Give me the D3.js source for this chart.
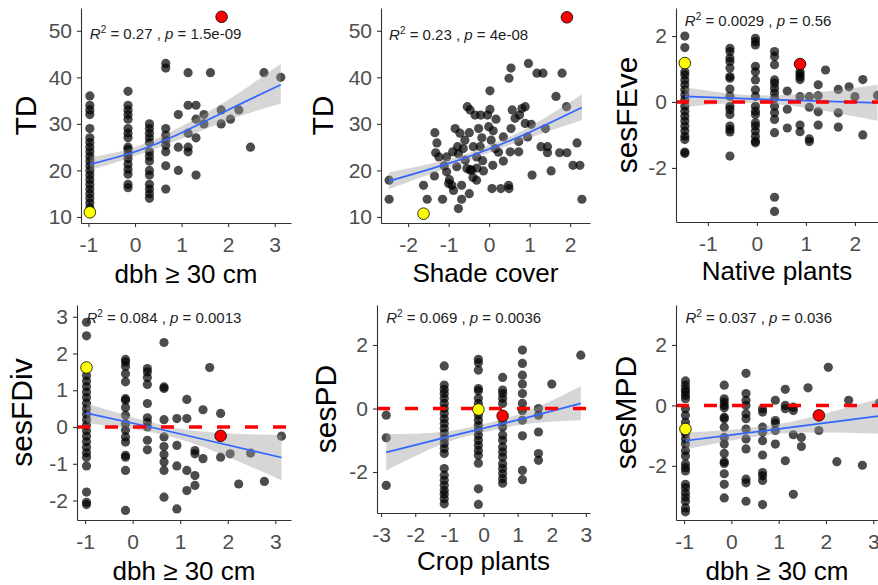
<!DOCTYPE html>
<html>
<head>
<meta charset="utf-8">
<script src="https://cdn.jsdelivr.net/npm/d3@7"></script>
<style>
  body { margin: 0; background: #fff; }
  svg { display: block; font-family: "Liberation Sans", Arial, sans-serif; }
</style>
</head>
<body>
<svg id="chart" width="878" height="585"></svg>
<script>
// ---- values ----
// columns: [x level, [y values]]
const tdByDbh = [
  [-0.97, [36, 34, 33, 32, 29, 27, 26, 25, 24, 23, 22, 21, 20, 19, 18, 17, 16, 15, 14, 13, 12]],
  [-0.15, [37, 34, 33, 32, 31, 29, 28, 27, 25, 24.5, 23.5, 22.5, 21.3, 20.2, 19.2, 17, 16.3]],
  [0.31, [30, 29, 28, 27, 26, 24, 23, 22, 20, 19, 17, 16, 15, 14]],
  [0.66, [43, 42, 29, 27.6, 26.5, 25.4, 24, 21, 16]],
  [0.93, [32, 25, 20]],
  [1.14, [41, 34, 28, 25, 24]],
  [1.31, [34, 31, 27, 19]],
  [1.48, [32, 30]],
  [1.62, [41]],
  [1.85, [33, 30]],
  [2.05, [31]],
  [2.23, [33]],
  [2.48, [25]],
  [2.77, [41]],
  [3.13, [40]]
];

// pairs: [shade cover, TD]
const tdByShade = [
  [-2.47, 17.9], [-2.47, 13.8], [-1.62, 16.8], [-1.53, 13.8], [-1.34, 28.1], [-1.29, 25.9],
  [-1.32, 23.8], [-1.24, 22.9], [-1.35, 18.8], [-1.15, 13.8], [-1.05, 22.9], [-1.11, 21.0],
  [-1.05, 19.7], [-0.98, 18.0], [-0.92, 16.8], [-0.88, 15.7], [-0.84, 29.0], [-0.78, 25.1],
  [-0.76, 23.6], [-0.72, 28.0], [-0.8, 20.8], [-0.68, 16.8], [-0.76, 11.8], [-0.68, 13.8],
  [-0.54, 33.7], [-0.47, 33.0], [-0.64, 24.7], [-0.59, 22.2], [-0.55, 20.4], [-0.49, 28.1],
  [-0.47, 20.1], [-0.43, 20.1], [-0.39, 25.1], [-0.49, 15.0], [-0.35, 31.9], [-0.26, 29.0],
  [-0.21, 31.9], [-0.18, 27.0], [-0.22, 25.1], [-0.31, 22.9], [-0.31, 17.9], [-0.16, 22.1],
  [-0.14, 19.9], [-0.04, 31.9], [0.02, 37.1], [0.02, 33.1], [-0.01, 29.4], [0.05, 26.5],
  [0.09, 21.1], [0.07, 16.1], [0.17, 31.0], [0.15, 24.7], [0.23, 23.9], [0.29, 16.1],
  [0.35, 22.0], [0.35, 27.2], [0.48, 16.8], [0.49, 16.1], [0.49, 39.8], [0.54, 42.0],
  [0.52, 24.0], [0.54, 29.0], [0.57, 33.0], [0.64, 31.2], [0.75, 31.9], [0.81, 33.3],
  [0.89, 33.7], [0.73, 24.0], [0.73, 26.2], [0.89, 30.1], [0.97, 43.0], [0.95, 27.2],
  [1.04, 29.9], [1.06, 19.0], [1.18, 40.9], [1.33, 40.9], [1.39, 29.0], [1.28, 25.1],
  [1.44, 25.1], [1.44, 23.8], [1.53, 19.9], [1.65, 35.9], [1.74, 23.8], [1.80, 40.9],
  [1.91, 33.7], [1.92, 23.8], [2.07, 21.1], [2.17, 25.9], [2.24, 21.1], [2.29, 13.8],
  [-0.9, 24.0], [-0.6, 26.5], [-0.3, 20.5], [0.1, 28.5], [-1.0, 17.2], [-0.4, 18.5]
];

const feveByNative = [
  [-1.47, [2.0, 1.65, 0.92, 0.82, 0.67, 0.52, 0.37, 0.22, 0.07, -0.13, -0.28, -0.43, -0.58, -0.73, -0.88, -1.04, -1.14, -1.52, -1.56]],
  [-0.55, [1.63, 1.53, 1.33, 1.23, 1.03, 0.77, 0.72, 0.39, 0.17, -0.13, -0.23, -0.38, -0.73, -0.83, -0.91, -1.64]],
  [-0.03, [1.93, 1.83, 1.73, 1.08, 0.92, 0.67, 0.37, 0.17, -0.13, -0.28, -0.38, -0.63, -0.73, -0.88, -1.04, -1.19, -1.24]],
  [0.36, [1.53, 1.38, 1.13, 0.67, 0.57, 0.42, 0.27, 0.12, -0.13, -0.33, -0.53, -0.93, -2.89, -3.32]],
  [0.62, [0.33, -0.22, -0.79]],
  [0.88, [0.92, 0.84, 0.76, 0.68, 0.16, -0.7, -0.9]],
  [1.07, [0.16, -0.16, -1.12, -1.2]],
  [1.25, [0.52, 0.19, -0.3, -0.7]],
  [1.4, [0.97]],
  [1.66, [0.38, -0.33, -0.76]],
  [1.88, [0.46]],
  [2.0, [0.16]],
  [2.16, [0.68, -1.0]],
  [2.46, [0.2]]
];

const fdivByDbh = [
  [-0.97, [2.85, 2.48, 1.4, 1.25, 1.1, 0.95, 0.8, 0.65, 0.5, 0.35, 0.2, 0.05, -0.1, -0.25, -0.4, -0.55, -0.7, -0.82, -1.06, -1.77, -2.05, -2.11]],
  [-0.15, [1.84, 1.77, 1.65, 1.45, 1.23, 0.77, 0.73, 0.53, 0.32, 0.09, -0.09, -0.27, -0.41, -0.77, -0.82, -1.18, -2.27]],
  [0.31, [1.59, 1.5, 1.35, 1.16, 0.64, 0.25, 0.13, 0, -0.36, -0.62]],
  [0.66, [2.3, 1.09, 1.05, 0.2, -0.27, -0.53, -0.75, -0.95, -1.18, -1.91]],
  [0.93, [0.23, -0.5, -1.06, -2.23]],
  [1.14, [0.75, 0.23, -1.18, -1.73]],
  [1.31, [-0.64, -0.73, -1.32, -1.59]],
  [1.48, [0.47, -0.86]],
  [1.62, [1.62]],
  [1.85, [0.37, -0.82]],
  [2.05, [-0.73]],
  [2.23, [-1.55]],
  [2.48, [-0.71]],
  [2.77, [-1.48]],
  [3.13, [-0.25]]
];

const pdByCrop = [
  [-2.85, [-0.21, -0.92, -2.42]],
  [-1.15, [1.34, 0.74, 0.6, 0.47, 0.32, 0.16, 0, -0.16, -0.32, -0.47, -0.63, -0.79, -0.95, -1.1, -1.26, -1.42, -1.89, -2.1, -2.26, -2.42, -2.58, -2.7, -2.84, -3.0]],
  [-0.15, [1.55, 1.44, 1.21, 0.63, 0.56, 0.32, 0.16, -0.21, -0.37, -0.53, -0.68, -0.84, -1.0, -1.16, -1.32, -1.47, -1.72, -2.53, -3.02]],
  [0.56, [0.98, 0.58, 0.47, 0.32, 0.16, -0.42, -0.58, -0.84, -1.0, -1.21, -1.37, -1.53, -1.74, -1.89, -2.05, -2.21, -2.35]],
  [1.14, [1.84, 1.42, 1.05, 0.77, 0.47, 0.16, -0.07, -0.37, -0.86, -1.95, -2.24]],
  [1.61, [0, -0.21, -0.74, -1.42, -1.63]],
  [2.0, [0.77]],
  [2.85, [1.68]]
];

const mpdByDbh = [
  [-0.97, [0.81, 0.67, 0.53, 0.44, 0.33, 0.22, -0.11, -0.33, -0.56, -0.94, -1.11, -1.28, -1.5, -1.67, -1.94, -2.06, -2.17, -2.61, -2.72, -2.89, -3.03, -3.17, -3.39, -3.52]],
  [-0.15, [0.67, 0.22, 0.11, 0, -0.08, -0.39, -0.44, -0.72, -1.06, -1.28, -1.59, -1.86, -1.92, -2.26, -2.61, -3.06]],
  [0.31, [1.06, 0.39, 0.17, 0, -0.28, -0.44, -0.78, -1.11, -1.44, -2.44, -2.56, -3.17]],
  [0.66, [-0.11, -0.22, -0.72, -0.89, -1.17, -1.64, -2.22, -2.33, -2.48, -3.28]],
  [0.93, [0.17, -0.5, -0.59, -0.83, -1.28]],
  [1.14, [0.53, 0, -0.11, -1.83]],
  [1.31, [-0.06, -0.17, -0.97, -2.94]],
  [1.48, [-1.06, -1.36]],
  [1.62, [0.58]],
  [1.85, [-0.83]],
  [2.05, [1.26]],
  [2.23, [-1.86]],
  [2.48, [0.17]],
  [2.77, [-1.98]],
  [3.13, [0.08]]
];

// fitted lines with confidence band: [x, fit, lower, upper]
const fitTdDbh = [[-0.97, 21.3, 20.0, 22.8], [0, 24.0, 23.1, 25.0], [1, 28.1, 26.8, 29.5], [2, 33.0, 30.8, 35.2], [3.13, 38.4, 34.4, 42.9]];
const fitTdShade = [[-2.47, 17.7, 16.0, 19.6], [-1, 21.5, 20.6, 22.4], [0, 24.6, 23.8, 25.4], [1, 28.2, 27.0, 29.4], [2.29, 33.5, 30.8, 36.3]];
const fitFeve = [[-1.47, 0.17, -0.15, 0.45], [0.3, 0.07, -0.06, 0.2], [2.46, -0.03, -0.57, 0.52]];
const fitFdiv = [[-0.97, 0.38, 0.1, 0.64], [0.3, 0.02, -0.12, 0.16], [1.5, -0.34, -0.55, -0.13], [3.13, -0.83, -1.45, -0.22]];
const fitPd = [[-2.85, -1.38, -1.95, -0.81], [-1.2, -0.93, -1.12, -0.74], [0, -0.62, -0.75, -0.49], [1.3, -0.28, -0.48, -0.08], [2.85, 0.16, -0.37, 0.7]];
const fitMpd = [[-0.97, -1.17, -1.45, -0.9], [0.3, -0.92, -1.08, -0.76], [1.5, -0.68, -0.9, -0.46], [3.13, -0.35, -0.93, 0.23]];

// highlighted sites: [x, y] for the yellow and red sites
const yellowSites = [[-0.97, 11], [-1.62, 10.7], [-1.47, 1.18], [-0.97, 1.62], [-0.15, -0.03], [-0.97, -0.78]];
const redSites = [[1.86, 53], [1.92, 52.9], [0.88, 1.15], [1.85, -0.24], [0.56, -0.23], [1.85, -0.33]];

const r2Values = ['0.27', '0.23', '0.0029', '0.084', '0.069', '0.037'];
const pValues = ['1.5e-09', '4e-08', '0.56', '0.0013', '0.0036', '0.036'];
const yTitles = ['TD', 'TD', 'sesFEve', 'sesFDiv', 'sesPD', 'sesMPD'];
const xTitles = ['dbh \u2265 30 cm', 'Shade cover', 'Native plants', 'dbh \u2265 30 cm', 'Crop plants', 'dbh \u2265 30 cm'];
const xTickSets = [[-1, 0, 1, 2, 3], [-2, -1, 0, 1, 2], [-1, 0, 1, 2], [-1, 0, 1, 2, 3], [-3, -2, -1, 0, 1, 2, 3], [-1, 0, 1, 2, 3]];
const yTickSets = [[10, 20, 30, 40, 50], [10, 20, 30, 40, 50], [-2, 0, 2], [-2, -1, 0, 1, 2, 3], [-2, 0, 2], [-2, 0, 2]];

const columnsToPairs = cols => cols.flatMap(([x, ys]) => ys.map(v => [x, v]));

// ---- layout of the six panels (pixels) ----
const panels = [
  { pts: columnsToPairs(tdByDbh), fit: fitTdDbh, left: 81, right: 291, top: 8, bottom: 223,
    xd: [-1.16, 3.35], yd: [8.7, 54.9], zero: false, yTitleX: 25, labelY: 39, xTitleY: 283 },
  { pts: tdByShade, fit: fitTdShade, left: 381, right: 590, top: 8, bottom: 223,
    xd: [-2.67, 2.49], yd: [8.7, 54.9], zero: false, yTitleX: 322, labelY: 40, xTitleY: 282 },
  { pts: columnsToPairs(feveByNative), fit: fitFeve, left: 676, right: 878, top: 8, bottom: 222,
    xd: [-1.65, 2.47], yd: [-3.64, 2.85], zero: true, yTitleX: 626, labelY: 26, xTitleY: 280 },
  { pts: columnsToPairs(fdivByDbh), fit: fitFdiv, left: 77, right: 291, top: 305, bottom: 520,
    xd: [-1.17, 3.33], yd: [-2.53, 3.32], zero: true, yTitleX: 21, labelY: 323, xTitleY: 580 },
  { pts: columnsToPairs(pdByCrop), fit: fitPd, left: 377, right: 590, top: 305, bottom: 513,
    xd: [-3.12, 3.12], yd: [-3.29, 3.26], zero: true, yTitleX: 325, labelY: 323, xTitleY: 570 },
  { pts: columnsToPairs(mpdByDbh), fit: fitMpd, left: 676, right: 878, top: 305, bottom: 520,
    xd: [-1.17, 3.1], yd: [-3.79, 3.32], zero: true, yTitleX: 625, labelY: 323, xTitleY: 580 }
];

const svg = d3.select('#chart');

panels.forEach((p, i) => {
  const x = d3.scaleLinear().domain(p.xd).range([p.left, p.right]);
  const y = d3.scaleLinear().domain(p.yd).range([p.bottom, p.top]);
  const g = svg.append('g');

  g.append('g').selectAll('circle')
    .data(p.pts)
    .join('circle')
    .attr('cx', d => x(d[0]))
    .attr('cy', d => y(d[1]))
    .attr('r', 4.6)
    .attr('fill', '#000')
    .attr('fill-opacity', 0.7);

  const band = d3.area()
    .x(d => x(d[0]))
    .y0(d => y(d[2]))
    .y1(d => y(d[3]))
    .curve(d3.curveNatural);
  g.append('path').datum(p.fit)
    .attr('d', band)
    .attr('fill', '#999')
    .attr('fill-opacity', 0.4);

  const line = d3.line().x(d => x(d[0])).y(d => y(d[1])).curve(d3.curveNatural);
  g.append('path').datum(p.fit)
    .attr('d', line)
    .attr('fill', 'none')
    .attr('stroke', '#3366FF')
    .attr('stroke-width', 1.7);

  if (p.zero) {
    g.append('line')
      .attr('x1', p.left).attr('x2', p.right)
      .attr('y1', y(0)).attr('y2', y(0))
      .attr('stroke', '#FF0000')
      .attr('stroke-width', 3.5)
      .attr('stroke-dasharray', '13,15');
  }

  [[yellowSites[i], '#FFFF00'], [redSites[i], '#FF0000']].forEach(([s, c]) => {
    g.append('circle')
      .attr('cx', x(s[0])).attr('cy', y(s[1]))
      .attr('r', 5.8)
      .attr('fill', c)
      .attr('stroke', '#000')
      .attr('stroke-width', 0.8);
  });

  // axes
  const yAxis = d3.axisLeft(y).tickValues(yTickSets[i]).tickSize(4).tickSizeOuter(0).tickPadding(5).tickFormat(d => d);
  const xAxis = d3.axisBottom(x).tickValues(xTickSets[i]).tickSize(4).tickSizeOuter(0).tickPadding(10).tickFormat(d => d);

  const ya = g.append('g').attr('transform', `translate(${p.left},0)`).call(yAxis);
  const xa = g.append('g').attr('transform', `translate(0,${p.bottom})`).call(xAxis);
  [ya, xa].forEach(a => {
    a.attr('font-family', null).attr('font-size', null);
    a.select('.domain').attr('stroke', '#333').attr('stroke-width', 1.1);
    a.selectAll('.tick line').attr('stroke', '#333').attr('stroke-width', 1.1);
    a.selectAll('.tick text').attr('fill', '#4D4D4D').style('font-size', '21px');
  });

  // correlation label
  const lab = g.append('text')
    .attr('x', x(d3.min(p.pts, d => d[0])))
    .attr('y', p.labelY)
    .attr('fill', '#222')
    .style('font-size', '15px');
  lab.append('tspan').attr('font-style', 'italic').text('R');
  lab.append('tspan').attr('dy', -6).style('font-size', '10px').text('2');
  lab.append('tspan').attr('dy', 6).text(` = ${r2Values[i]} , `);
  lab.append('tspan').attr('font-style', 'italic').text('p');
  lab.append('tspan').text(` = ${pValues[i]}`);

  // titles
  g.append('text')
    .attr('transform', `translate(${p.yTitleX},${(p.top + p.bottom) / 2}) rotate(-90)`)
    .attr('text-anchor', 'middle')
    .attr('dominant-baseline', 'central')
    .style('font-size', '30px')
    .text(yTitles[i]);

  g.append('text')
    .attr('x', (p.left + p.right) / 2)
    .attr('y', p.xTitleY)
    .attr('text-anchor', 'middle')
    .style('font-size', '26px')
    .text(xTitles[i]);
});
</script>
</body>
</html>
